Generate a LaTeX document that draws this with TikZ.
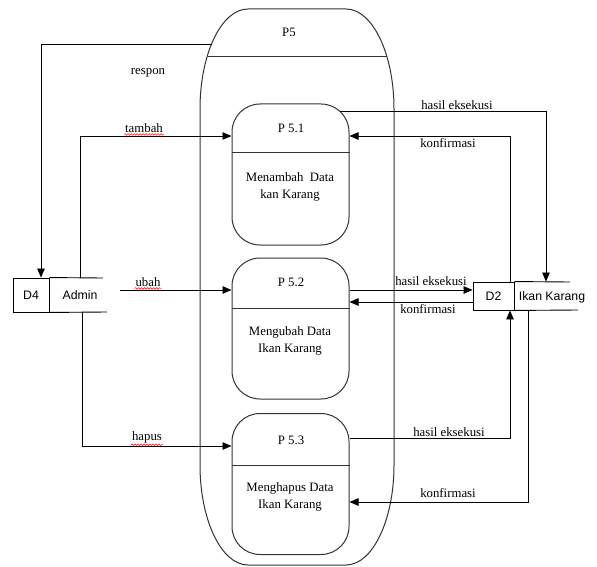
\documentclass[tikz,border=0pt]{standalone}
\usepackage{fontspec}
\setmainfont{Liberation Serif}
\newfontfamily\arialfont{Liberation Sans}
\usetikzlibrary{arrows.meta,decorations.pathmorphing}
\begin{document}
\begin{tikzpicture}[x=1pt,y=1pt,
  line width=0.8pt,
  flow/.style={draw=black,line width=0.8pt,-{Triangle[length=9pt,width=7.5pt]}},
  proc/.style={draw=black!80,line width=1pt,rounded corners=28pt,minimum width=117pt,minimum height=141pt,inner sep=0pt},
  lbl/.style={font=\fontsize{12.8}{14}\selectfont,inner sep=0.5pt},
  ptxt/.style={font=\fontsize{12.8}{17}\selectfont,align=center,inner sep=0pt},
  stxt/.style={font=\arialfont\fontsize{12.3}{14}\selectfont,inner sep=0pt},
  spell/.style={draw=red,line width=0.5pt,decorate,decoration={snake,amplitude=0.8pt,segment length=3pt}}]
\useasboundingbox (0,0) rectangle (597,-567);
% P5 outer
\draw[black!80,line width=1pt] (248,-9) -- (346,-9)
  arc[start angle=90,end angle=0,x radius=48,y radius=100] -- (394,-465)
  arc[start angle=0,end angle=-90,x radius=48,y radius=100] -- (248,-565)
  arc[start angle=270,end angle=180,x radius=48,y radius=100] -- (200,-109)
  arc[start angle=180,end angle=90,x radius=48,y radius=100] -- cycle;
\draw[black!80,line width=1pt] (207.5,-57) -- (386.5,-57);
\node[font=\fontsize{12.8}{14}\selectfont] (p5) at (289,-32) {P5};
% sub processes
\node[proc] (p1) at (290.5,-174.5) {};
\node[proc] (p2) at (290.5,-328.5) {};
\node[proc] (p3) at (290.5,-484) {};
\draw[black!80,line width=1pt] (p1.west |- 0,-153) -- (p1.east |- 0,-153);
\draw[black!80,line width=1pt] (p2.west |- 0,-308) -- (p2.east |- 0,-308);
\draw[black!80,line width=1pt] (p3.west |- 0,-465) -- (p3.east |- 0,-465);
\node[ptxt] (t1) at (291,-128) {P 5.1};
\node[ptxt] (d1) at (290,-186.5) {Menambah\ \ Data\\kan Karang};
\node[ptxt] (t2) at (291,-282) {P 5.2};
\node[ptxt] (d2) at (290,-340.5) {Mengubah Data\\Ikan Karang};
\node[ptxt] (t3) at (291,-440) {P 5.3};
\node[ptxt] (d3) at (290,-496.5) {Menghapus Data\\Ikan Karang};
% D4 Admin store
\node[draw=black,line width=0.9pt,minimum width=36pt,minimum height=34pt,inner sep=0pt,stxt] (d4) at (31,-295) {D4};
\node[stxt] (admin) at (80,-295) {Admin};
\draw[line width=0.9pt] (d4.north east) -- (103,-278);
\draw[line width=0.9pt] (d4.south east) -- (107,-312);
% D2 Ikan Karang store
\node[draw=black,line width=0.9pt,minimum width=41pt,minimum height=28pt,inner sep=0pt,stxt] (d2s) at (493.5,-296) {D2};
\node[stxt] (ikan) at (552,-297) {Ikan Karang};
\draw[line width=0.9pt] (d2s.north east) -- (570,-282);
\draw[line width=0.9pt] (d2s.south east) -- (578,-310);
% coordinates
\coordinate (respS) at (212,-44);
\coordinate (ubahS) at (120,-290);
% left flows
\draw[flow] (respS) -| (d4.north -| 41,0);
\draw[flow] (80,0 |- d4.north) |- (p1.west |- 0,-136);
\draw[flow] (ubahS) -- (p2.west |- ubahS);
\draw[flow] (82,0 |- d4.south) |- (p3.west |- 0,-446);
\node[lbl] (lresp) at (148,-73) {respon};
\node[lbl] (ltam) at (144,-128) {tambah};
\node[lbl] (lubah) at (148,-282) {ubah};
\node[lbl] (lhap) at (147,-437) {hapus};
\draw[spell] ([yshift=-1pt]ltam.south west) -- ([yshift=-1pt]ltam.south east);
\draw[spell] ([yshift=-1pt]lubah.south west) -- ([yshift=-1pt]lubah.south east);
\draw[spell] ([yshift=-1pt]lhap.south west) -- ([yshift=-1pt]lhap.south east);
% right flows
\draw[flow] (340,-111) -| (546,0 |- d2s.north);
\draw[flow] (510,0 |- d2s.north) |- (p1.east |- 0,-136);
\draw[flow] (p2.east |- 0,-290) -- (d2s.west |- 0,-290);
\draw[flow] (d2s.west |- 0,-302) -- (p2.east |- 0,-302);
\draw[flow] (p3.east |- 0,-438) -| (510,0 |- d2s.south);
\draw[flow] (528,0 |- d2s.south) |- (p3.east |- 0,-502);
\node[lbl] (lh1) at (457,-105) {hasil eksekusi};
\node[lbl] (lk1) at (448,-143) {konfirmasi};
\node[lbl] (lh2) at (431,-281) {hasil eksekusi};
\node[lbl] (lk2) at (428,-309) {konfirmasi};
\node[lbl] (lh3) at (449,-432) {hasil eksekusi};
\node[lbl] (lk3) at (448,-493) {konfirmasi};
\end{tikzpicture}
\end{document}
